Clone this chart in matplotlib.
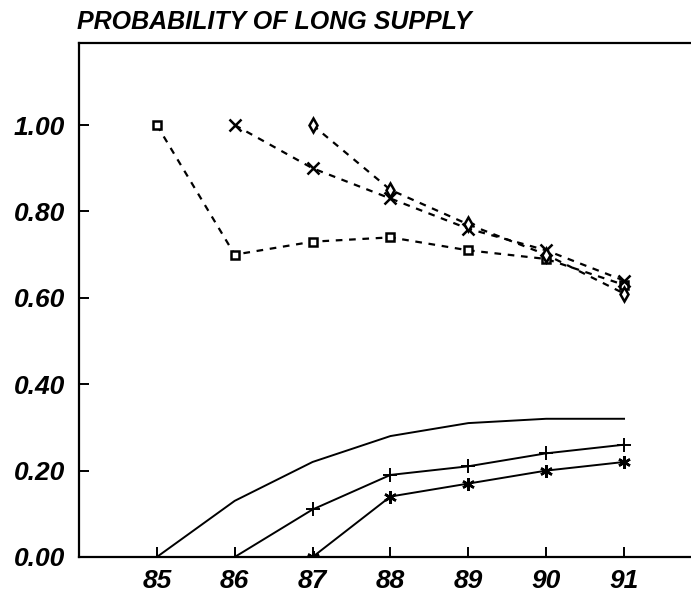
import matplotlib
matplotlib.use('Agg')
import matplotlib.pyplot as plt

plt.rcParams['font.family'] = ['Liberation Sans', 'DejaVu Sans']

years = [85, 86, 87, 88, 89, 90, 91]

# dashed series (upper group)
sq_x = [85, 86, 87, 88, 89, 90, 91]
sq_y = [1.00, 0.70, 0.73, 0.74, 0.71, 0.69, 0.63]
cross_x = [86, 87, 88, 89, 90, 91]
cross_y = [1.00, 0.90, 0.83, 0.76, 0.71, 0.64]
dia_x = [87, 88, 89, 90, 91]
dia_y = [1.00, 0.85, 0.77, 0.70, 0.61]

# solid series (lower group)
plain_x = [85, 86, 87, 88, 89, 90, 91]
plain_y = [0.00, 0.13, 0.22, 0.28, 0.31, 0.32, 0.32]
plus_x = [86, 87, 88, 89, 90, 91]
plus_y = [0.00, 0.11, 0.19, 0.21, 0.24, 0.26]
star_x = [87, 88, 89, 90, 91]
star_y = [0.00, 0.14, 0.17, 0.20, 0.22]

yticks = [0.0, 0.2, 0.4, 0.6, 0.8, 1.0]
ytick_labels = ['0.00', '0.20', '0.40', '0.60', '0.80', '1.00']

fig = plt.figure(figsize=(6.91, 5.94), dpi=100)
ax = fig.add_axes([0.1143, 0.0623, 0.8857, 0.8653])

dash = (0, (3, 3))
ax.plot(sq_x, sq_y, color='black', lw=1.6, linestyle=dash, marker='s',
        ms=6, mfc='white', mec='black', mew=1.8)
ax.plot(cross_x, cross_y, color='black', lw=1.6, linestyle=dash, marker='x',
        ms=8, mec='black', mew=1.8)
ax.plot(dia_x, dia_y, color='black', lw=1.6, linestyle=dash, marker='d',
        ms=7, mfc='white', mec='black', mew=1.8)

ax.plot(plain_x, plain_y, color='black', lw=1.4)
ax.plot(plus_x, plus_y, color='black', lw=1.4, marker='+', ms=10, mew=1.4)
ax.plot(star_x, star_y, color='black', lw=1.4, marker=(6, 2, 0), ms=9, mew=1.8)

ax.set_xlim(84.0, 91.86)
ax.set_ylim(0, 1.19)
ax.set_xticks(years)
ax.set_xticklabels([str(y) for y in years])
ax.set_yticks(yticks)
ax.set_yticklabels(ytick_labels)

for side in ['left', 'bottom', 'top']:
    ax.spines[side].set_linewidth(1.6)
ax.spines['right'].set_visible(False)

ax.tick_params(axis='both', direction='in', length=7, width=1.4,
               labelsize=19)
ax.tick_params(axis='y', pad=10)
ax.tick_params(axis='x', pad=9)
for lab in ax.get_xticklabels() + ax.get_yticklabels():
    lab.set_fontweight('bold')
    lab.set_fontstyle('italic')

fig.text(0.112, 0.951, 'PROBABILITY OF LONG SUPPLY', fontsize=18,
         fontweight='bold', fontstyle='italic', va='baseline', ha='left')

fig.savefig('out.png', dpi=100)
